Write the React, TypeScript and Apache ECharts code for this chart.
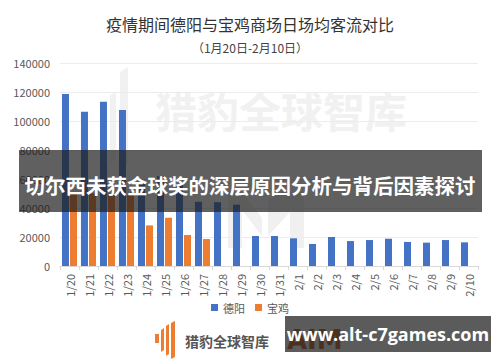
import React, { useEffect, useRef } from "react";
import * as echarts from "echarts";

const categories = ["1/20","1/21","1/22","1/23","1/24","1/25","1/26","1/27","1/28","1/29","1/30","1/31","2/1","2/2","2/3","2/4","2/5","2/6","2/7","2/8","2/9","2/10"];
const deyang = [118600,106400,113300,107600,58000,62000,56000,44300,44000,42300,20700,20700,19100,15200,20000,17200,17900,18800,16600,16100,17900,16300];
const baoji = [51000,50000,50000,49000,28000,33300,21400,18600,null,null,null,null,null,null,null,null,null,null,null,null,null,null];
const yTicks = [0, 20000, 140000, 20000]; // min, interval, max

const FONT = "'Noto Sans CJK SC', 'Noto Sans', sans-serif";

export default function App() {
  const ref = useRef<HTMLDivElement>(null);
  useEffect(() => {
    const chart = echarts.init(ref.current!, null, { renderer: "svg" });
    chart.setOption({
      animation: false,
      backgroundColor: "#ffffff",
      textStyle: { fontFamily: FONT },
      title: {
        text: "疫情期间德阳与宝鸡商场日场均客流对比",
        subtext: "（1月20日-2月10日）",
        left: "center",
        top: 9,
        itemGap: 6,
        textStyle: { fontSize: 16, fontWeight: "normal", color: "#333333", fontFamily: FONT, lineHeight: 20 },
        subtextStyle: { fontSize: 12, color: "#444444", fontFamily: FONT, lineHeight: 14 },
      },
      legend: {
        bottom: 44,
        left: "center",
        itemWidth: 7,
        itemHeight: 7,
        itemGap: 10,
        icon: "rect",
        textStyle: { fontSize: 11, color: "#595959", fontFamily: FONT },
        data: ["德阳", "宝鸡"],
      },
      grid: { left: 60, right: 22, top: 63, bottom: 96, containLabel: false },
      xAxis: {
        type: "category",
        data: categories,
        axisLine: { lineStyle: { color: "#d9d9d9" } },
        axisTick: { show: true, alignWithLabel: false, length: 4, lineStyle: { color: "#d9d9d9" } },
        axisLabel: { rotate: 90, fontSize: 11, color: "#595959", margin: 8, fontFamily: FONT },
      },
      yAxis: {
        type: "value",
        min: yTicks[0],
        interval: yTicks[1],
        max: yTicks[2],
        axisLine: { show: false },
        axisTick: { show: false },
        splitLine: { lineStyle: { color: "#ececec" } },
        axisLabel: { fontSize: 11, color: "#595959", margin: 10, fontFamily: FONT, formatter: (v: number) => String(v) },
      },
      series: [
        { name: "德阳", type: "bar", data: deyang, barWidth: 7, barGap: "15%", itemStyle: { color: "#4472C4" }, z: 2 },
        { name: "宝鸡", type: "bar", data: baoji, barWidth: 7, itemStyle: { color: "#ED7D31" }, z: 2 },
      ],
      graphic: [
        // watermark logo bars (light gray)
        { type: "polygon", z: -1, shape: { points: [[101, 112], [106, 110], [106, 150], [101, 152]] }, style: { fill: "#f1f1f1" } },
        { type: "polygon", z: -1, shape: { points: [[110, 95], [116, 92], [116, 160], [110, 162]] }, style: { fill: "#f1f1f1" } },
        { type: "polygon", z: -1, shape: { points: [[120, 72], [128, 67], [128, 165], [120, 168]] }, style: { fill: "#f1f1f1" } },
        { type: "text", z: -1, left: 155, top: 88, style: { text: "猎豹全球智库", fill: "#f1f1f1", font: "bold 42px 'Noto Sans CJK SC'" } },
        // watermark M shape
        { type: "polygon", z: -1, shape: { points: [[228, 192], [242, 192], [262, 218], [262, 236], [242, 210], [242, 248], [228, 248]] }, style: { fill: "#f0f0f0" } },
        { type: "polygon", z: -1, shape: { points: [[268, 200], [282, 192], [304, 192], [304, 248], [290, 248], [290, 212], [268, 236]] }, style: { fill: "#f0f0f0" } },
        // big overlay banner
        { type: "rect", z: 100, shape: { x: 19, y: 150, width: 463, height: 62 }, style: { fill: "rgba(28,28,28,0.7)" } },
        { type: "text", z: 101, x: 250, y: 185, style: { text: "切尔西未获金球奖的深层原因分析与背后因素探讨", fill: "#ffffff", font: "bold 20.5px 'Noto Sans CJK SC'", align: "center", verticalAlign: "middle" } },
        // bottom logo
        { type: "rect", z: 10, shape: { x: 155, y: 334, width: 4, height: 9 }, style: { fill: "#ED7D31" } },
        { type: "polygon", z: 10, shape: { points: [[161, 330], [164, 328], [164, 350], [161, 352]] }, style: { fill: "#ED7D31" } },
        { type: "polygon", z: 10, shape: { points: [[166, 326], [169, 324], [169, 354], [166, 356]] }, style: { fill: "#ED7D31" } },
        { type: "polygon", z: 10, shape: { points: [[171, 323], [175, 321], [175, 357], [171, 359]] }, style: { fill: "#ED7D31" } },
        { type: "text", z: 10, x: 185, y: 341, style: { text: "猎豹全球智库", fill: "#555555", font: "bold 14px 'Noto Sans CJK SC'", verticalAlign: "middle" } },
        { type: "text", z: 10, x: 287, y: 340, style: { text: "AIM", fill: "#C9642A", font: "bold 26px 'DejaVu Sans'", verticalAlign: "middle" } },
        // bottom-right banner
        { type: "rect", z: 100, shape: { x: 285, y: 316, width: 206, height: 36 }, style: { fill: "rgba(28,28,28,0.72)" } },
        { type: "text", z: 101, x: 388, y: 334, style: { text: "www.alt-c7games.com", fill: "#ffffff", font: "bold 18px 'Open Sans'", align: "center", verticalAlign: "middle" } },
      ],
    });
    return () => chart.dispose();
  }, []);
  return <div ref={ref} style={{ width: 500, height: 362, position: "absolute", left: 0, top: 0 }} />;
}
